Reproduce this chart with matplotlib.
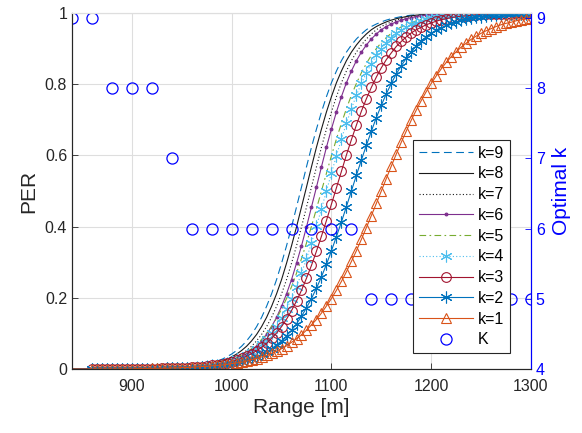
import numpy as np
import matplotlib
matplotlib.use('Agg')
import matplotlib.pyplot as plt

plt.rcParams['font.family'] = ['Liberation Sans', 'DejaVu Sans']

# range axis, 5 m steps
rng = np.arange(840, 1301, 5)

# PER (near-zero head and saturated tail padded)
per_k9 = [0.0]*15 + [0.001, 0.001, 0.001, 0.002, 0.002, 0.003, 0.004, 0.005, 0.006, 0.007,
                     0.009, 0.011, 0.014, 0.017, 0.022, 0.027, 0.034, 0.042, 0.052, 0.064,
                     0.079, 0.097, 0.119, 0.145, 0.176, 0.211, 0.251, 0.297, 0.346, 0.399,
                     0.455, 0.511, 0.568, 0.623, 0.674, 0.722, 0.765, 0.804, 0.837, 0.866,
                     0.890, 0.910, 0.927, 0.941, 0.953, 0.962, 0.969, 0.975, 0.980, 0.984,
                     0.987, 0.990, 0.992, 0.994, 0.995, 0.996, 0.997, 0.997, 0.998, 0.998,
                     0.999, 0.999, 0.999] + [1.0]*15
per_k8 = [0.0]*16 + [0.001, 0.001, 0.001, 0.002, 0.002, 0.003, 0.004, 0.005, 0.006, 0.007,
                     0.009, 0.011, 0.014, 0.017, 0.022, 0.027, 0.034, 0.042, 0.052, 0.064,
                     0.079, 0.097, 0.119, 0.145, 0.176, 0.211, 0.251, 0.297, 0.346, 0.399,
                     0.455, 0.511, 0.568, 0.623, 0.674, 0.722, 0.765, 0.804, 0.837, 0.866,
                     0.890, 0.910, 0.927, 0.941, 0.953, 0.962, 0.969, 0.975, 0.980, 0.984,
                     0.987, 0.990, 0.992, 0.994, 0.995, 0.996, 0.997, 0.997, 0.998, 0.998,
                     0.999, 0.999, 0.999] + [1.0]*14
per_k7 = [0.0]*17 + [0.001, 0.001, 0.001, 0.002, 0.002, 0.003, 0.004, 0.005, 0.006, 0.007,
                     0.009, 0.011, 0.014, 0.017, 0.022, 0.027, 0.034, 0.042, 0.052, 0.064,
                     0.079, 0.097, 0.119, 0.145, 0.176, 0.211, 0.251, 0.297, 0.346, 0.399,
                     0.455, 0.511, 0.568, 0.623, 0.674, 0.722, 0.765, 0.804, 0.837, 0.866,
                     0.890, 0.910, 0.927, 0.941, 0.953, 0.962, 0.969, 0.975, 0.980, 0.984,
                     0.987, 0.990, 0.992, 0.994, 0.995, 0.996, 0.997, 0.997, 0.998, 0.998,
                     0.999, 0.999, 0.999] + [1.0]*13
per_k6 = [0.0]*18 + [0.001, 0.001, 0.001, 0.002, 0.002, 0.003, 0.004, 0.005, 0.006, 0.007,
                     0.009, 0.011, 0.014, 0.017, 0.022, 0.027, 0.034, 0.042, 0.052, 0.064,
                     0.079, 0.097, 0.119, 0.145, 0.176, 0.211, 0.251, 0.297, 0.346, 0.399,
                     0.455, 0.511, 0.568, 0.623, 0.674, 0.722, 0.765, 0.804, 0.837, 0.866,
                     0.890, 0.910, 0.927, 0.941, 0.953, 0.962, 0.969, 0.975, 0.980, 0.984,
                     0.987, 0.990, 0.992, 0.994, 0.995, 0.996, 0.997, 0.997, 0.998, 0.998,
                     0.999, 0.999, 0.999] + [1.0]*12
per_k5 = [0.0]*16 + [0.001, 0.001, 0.002, 0.002, 0.002, 0.003, 0.004, 0.004, 0.005, 0.007,
                     0.008, 0.010, 0.012, 0.015, 0.018, 0.022, 0.027, 0.032, 0.039, 0.047,
                     0.057, 0.069, 0.083, 0.100, 0.119, 0.142, 0.168, 0.198, 0.231, 0.269,
                     0.310, 0.354, 0.401, 0.450, 0.500, 0.550, 0.599, 0.646, 0.690, 0.731,
                     0.769, 0.802, 0.832, 0.858, 0.881, 0.900, 0.917, 0.931, 0.943, 0.953,
                     0.961, 0.968, 0.973, 0.978, 0.982, 0.985, 0.988, 0.990, 0.992, 0.993,
                     0.995, 0.996, 0.996, 0.997, 0.998, 0.998, 0.998, 0.999, 0.999] + [1.0]*8
per_k4 = [0.0]*17 + [0.001, 0.001, 0.002, 0.002, 0.002, 0.003, 0.004, 0.004, 0.005, 0.007,
                     0.008, 0.010, 0.012, 0.015, 0.018, 0.022, 0.027, 0.032, 0.039, 0.047,
                     0.057, 0.069, 0.083, 0.100, 0.119, 0.142, 0.168, 0.198, 0.231, 0.269,
                     0.310, 0.354, 0.401, 0.450, 0.500, 0.550, 0.599, 0.646, 0.690, 0.731,
                     0.769, 0.802, 0.832, 0.858, 0.881, 0.900, 0.917, 0.931, 0.943, 0.953,
                     0.961, 0.968, 0.973, 0.978, 0.982, 0.985, 0.988, 0.990, 0.992, 0.993,
                     0.995, 0.996, 0.996, 0.997, 0.998, 0.998, 0.998, 0.999, 0.999] + [1.0]*7
per_k3 = [0.0]*15 + [0.001, 0.001, 0.001, 0.002, 0.002, 0.002, 0.003, 0.003, 0.004, 0.005,
                     0.006, 0.007, 0.008, 0.010, 0.012, 0.015, 0.017, 0.021, 0.025, 0.030,
                     0.036, 0.043, 0.051, 0.061, 0.072, 0.086, 0.101, 0.119, 0.140, 0.164,
                     0.191, 0.221, 0.255, 0.291, 0.331, 0.373, 0.417, 0.463, 0.509, 0.555,
                     0.601, 0.644, 0.685, 0.724, 0.759, 0.791, 0.820, 0.846, 0.869, 0.888,
                     0.906, 0.920, 0.933, 0.944, 0.953, 0.960, 0.967, 0.972, 0.977, 0.981,
                     0.984, 0.987, 0.989, 0.991, 0.992, 0.994, 0.995, 0.996, 0.996, 0.997,
                     0.997, 0.998, 0.998, 0.998, 0.999, 0.999, 0.999, 0.999]
per_k2 = [0.0]*17 + [0.001, 0.001, 0.002, 0.002, 0.002, 0.003, 0.003, 0.004, 0.004, 0.005,
                     0.006, 0.007, 0.009, 0.011, 0.012, 0.015, 0.018, 0.021, 0.025, 0.029,
                     0.035, 0.041, 0.049, 0.057, 0.068, 0.079, 0.093, 0.109, 0.127, 0.148,
                     0.172, 0.198, 0.227, 0.259, 0.294, 0.332, 0.372, 0.413, 0.456, 0.500,
                     0.544, 0.587, 0.628, 0.668, 0.706, 0.741, 0.773, 0.802, 0.829, 0.852,
                     0.873, 0.891, 0.907, 0.921, 0.933, 0.943, 0.952, 0.959, 0.965, 0.971,
                     0.975, 0.979, 0.982, 0.985, 0.988, 0.990, 0.991, 0.993, 0.994, 0.995,
                     0.996, 0.996, 0.997, 0.997, 0.998, 0.998]
per_k1 = [0.0]*13 + [0.001, 0.001, 0.001, 0.002, 0.002, 0.002, 0.002, 0.003, 0.003, 0.004,
                     0.004, 0.005, 0.006, 0.007, 0.007, 0.009, 0.010, 0.011, 0.013, 0.015,
                     0.017, 0.019, 0.022, 0.026, 0.029, 0.034, 0.038, 0.044, 0.050, 0.057,
                     0.065, 0.075, 0.085, 0.096, 0.109, 0.124, 0.139, 0.157, 0.177, 0.198,
                     0.221, 0.246, 0.273, 0.302, 0.332, 0.364, 0.397, 0.431, 0.465, 0.500,
                     0.535, 0.570, 0.604, 0.637, 0.668, 0.699, 0.727, 0.754, 0.779, 0.802,
                     0.823, 0.843, 0.861, 0.877, 0.891, 0.904, 0.915, 0.926, 0.935, 0.943,
                     0.950, 0.956, 0.962, 0.967, 0.971, 0.974, 0.978, 0.981, 0.983, 0.985]

# optimal k, every 20 m
k_rng = np.arange(840, 1301, 20)
k_opt = [9, 9, 8, 8, 8, 7, 6, 6, 6, 6, 6, 6, 6, 6, 6, 5, 5, 5, 5, 5, 5, 5, 5, 5]

labels = ['k=9', 'k=8', 'k=7', 'k=6', 'k=5', 'k=4', 'k=3', 'k=2', 'k=1']
series = [per_k9, per_k8, per_k7, per_k6, per_k5, per_k4, per_k3, per_k2, per_k1]

aster = (6, 2, 0)
styles = [
    dict(color='#0072BD', ls=(0, (7, 4)), marker=None),
    dict(color='#1a1a1a', ls='-', marker=None),
    dict(color='#1a1a1a', ls=(0, (1, 2)), marker=None),
    dict(color='#7E2F8E', ls='-', marker='.', ms=4),
    dict(color='#77AC30', ls=(0, (6, 3, 1.5, 3)), marker=None),
    dict(color='#4DBEEE', ls=(0, (1, 2)), marker=aster, ms=8.5),
    dict(color='#A2142F', ls='-', marker='o', ms=7, mfc='none'),
    dict(color='#0072BD', ls='-', marker=aster, ms=8.5),
    dict(color='#D95319', ls='-', marker='^', ms=7.5, mfc='none'),
]

fig = plt.figure(figsize=(5.82, 4.33), dpi=100)
ax = fig.add_axes([72/582, 1-369/433, 459/582, 356/433])
ax2 = ax.twinx()

handles = []
for y, lab, st in zip(series, labels, styles):
    st = dict(st)
    mk = st.pop('marker')
    h, = ax.plot(rng, y, lw=0.8, marker=mk, markevery=slice(4, None),
                 mew=0.8, label=lab, **st)
    handles.append(h)

hk, = ax2.plot(k_rng, k_opt, ls='none', marker='o', ms=8, mfc='none',
               mec='#0000FF', mew=0.9, label='K')
handles.append(hk)

dark = '#262626'
ax.set_xlim(840, 1300)
ax.set_ylim(0, 1)
ax.set_xticks([900, 1000, 1100, 1200, 1300])
ax.set_yticks([0, 0.2, 0.4, 0.6, 0.8, 1])
ax.set_yticklabels(['0', '0.2', '0.4', '0.6', '0.8', '1'])
ax.grid(True, color='#dedede', lw=0.8)
ax.set_axisbelow(True)
ax.tick_params(direction='in', length=4, width=0.6, colors=dark, labelsize=11.5)
ax.tick_params(axis='x', pad=7)
ax.set_xlabel('Range [m]', fontsize=15, color=dark, labelpad=3)
ax.set_ylabel('PER', fontsize=15, color=dark, labelpad=5)

ax2.set_ylim(4, 9.07)
ax2.set_yticks([4, 5, 6, 7, 8, 9])
ax2.tick_params(direction='in', length=4, width=0.6, colors='#0000FF', labelsize=11.5)
ax2.set_ylabel('Optimal k', fontsize=15, color='#0000FF', labelpad=5)

for a in (ax, ax2):
    a.spines['left'].set_color(dark)
    a.spines['bottom'].set_color(dark)
    a.spines['top'].set_color('#dedede')
    a.spines['right'].set_color('#0000FF')
    for s in a.spines.values():
        s.set_linewidth(0.8)

leg = ax2.legend(handles=handles, loc='upper left',
                 bbox_to_anchor=((413-72)/459, (369-140)/356),
                 bbox_transform=ax.transAxes, borderaxespad=0,
                 fontsize=11.5, handlelength=3.4, labelspacing=0.36,
                 handletextpad=0.3, borderpad=0.35, fancybox=False,
                 framealpha=1)
leg.get_frame().set_edgecolor(dark)
leg.get_frame().set_linewidth(0.8)

fig.savefig('out.png', dpi=100)
